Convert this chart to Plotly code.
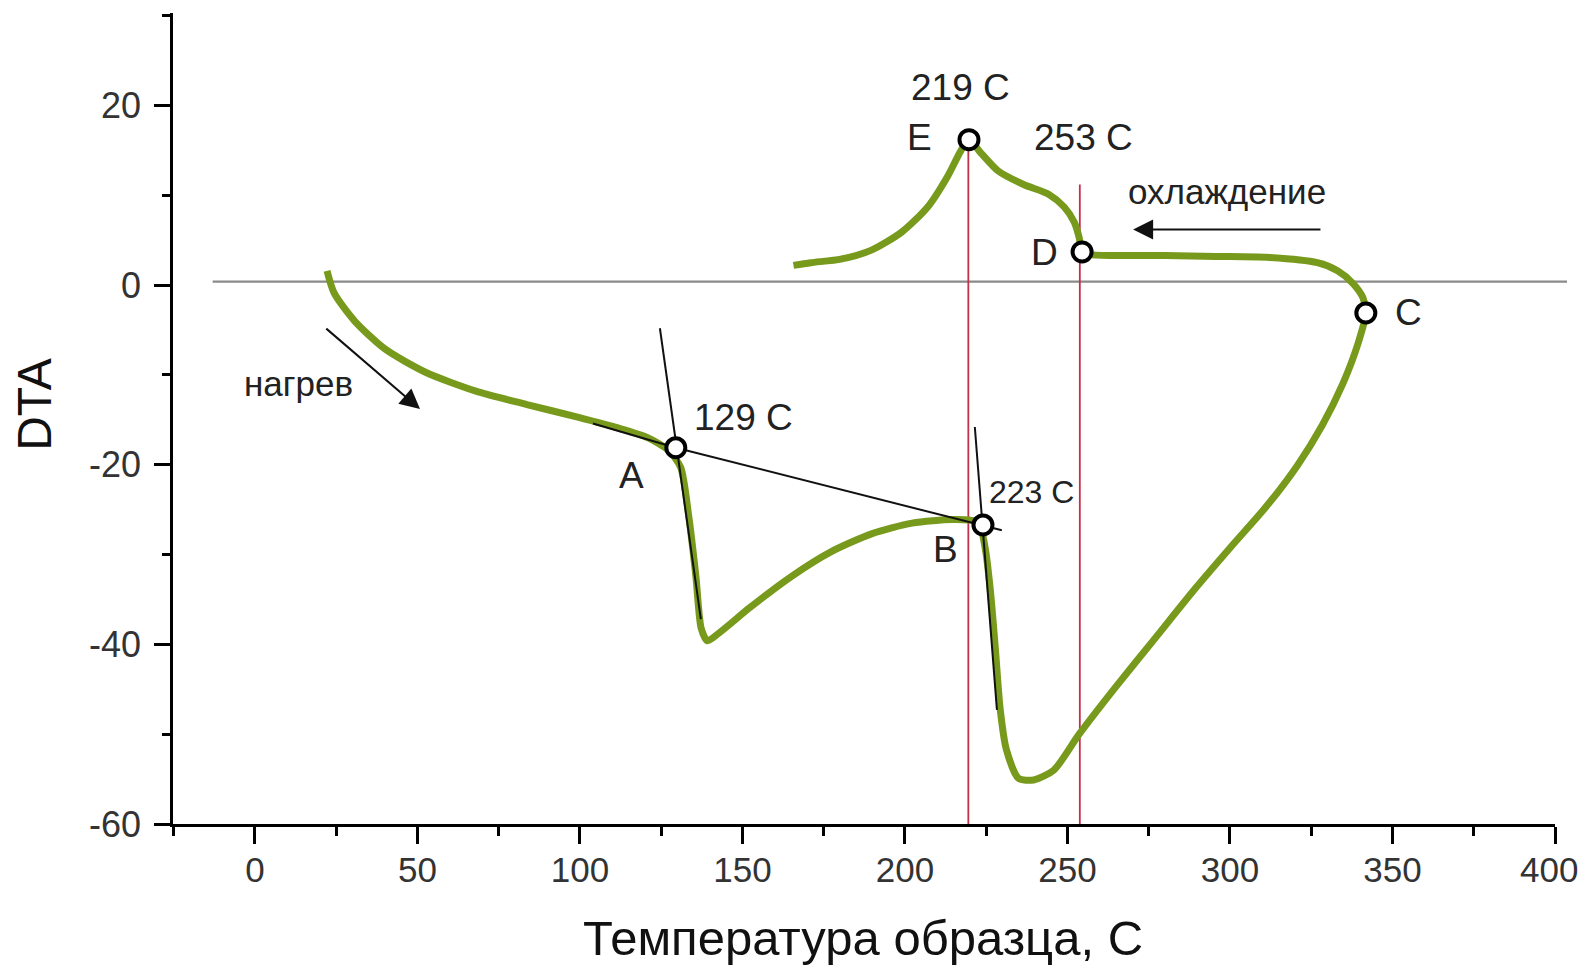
import plotly.graph_objects as go

# ---- data ----
curve_x = [22.2, 24.4, 30.7, 40.0, 52.5, 68.0, 83.7, 99.3, 111.7, 121.0, 127.3, 131.0, 133.5,
           135.7, 137.3, 139.2, 142.9, 152.3, 164.8, 177.2, 189.7, 202.2, 214.7, 222.5, 224.6,
           226.2, 227.8, 229.3, 231.2, 234.9, 239.6, 245.8, 253.6, 264.5, 277.0, 289.5, 300.4,
           311.3, 320.7, 328.4, 334.7, 339.4, 341.8, 340.9, 337.8, 333.1, 326.9, 311.3, 295.8,
           280.0, 264.5, 256.7, 254.5, 253.6, 252.1, 249.0, 244.3, 236.5, 228.7, 223.4, 219.7,
           217.1, 213.1, 207.0, 199.0, 189.7, 180.3, 171.0, 165.7]
curve_y = [1.6, -0.9, -4.0, -7.1, -9.7, -11.8, -13.3, -14.7, -15.9, -17.0, -18.4, -20.3, -25.8,
           -32.5, -38.2, -39.6, -38.7, -35.9, -32.5, -29.7, -27.7, -26.5, -26.1, -26.4, -29.1,
           -33.7, -40.4, -47.2, -51.7, -54.9, -55.1, -54.0, -50.0, -44.9, -39.3, -33.7, -29.1,
           -24.6, -20.1, -15.6, -11.0, -6.5, -3.1, -1.4, 0.2, 1.6, 2.5, 3.1, 3.2,
           3.3, 3.3, 3.4, 3.7, 5.3, 7.0, 8.7, 10.1, 11.2, 12.7, 14.7, 16.2,
           14.9, 12.1, 8.7, 5.9, 3.9, 2.9, 2.5, 2.2]

point_names = ["A", "B", "C", "D", "E"]
point_x = [129.5, 224.0, 341.8, 254.5, 219.7]
point_y = [-18.1, -26.7, -3.1, 3.7, 16.2]

# tangent / construction lines (pairs of endpoints)
tangent_segments = [
    ([124.6, 137.2], [-4.8, -37.2]),     # steep tangent at A
    ([104.0, 129.5], [-15.4, -18.1]),    # baseline before A
    ([129.5, 229.8], [-18.1, -27.3]),    # A -> B
    ([221.5, 228.3], [-15.8, -47.3]),    # steep tangent at B
]

red_lines_x = [219.5, 253.8]
red_lines_top = [16.2, 11.2]

baseline_y = 0.4
baseline_x = [-13.0, 403.7]

x_range = [-25.2, 400]
y_range = [-60, 30.3]

x_ticks = [0, 50, 100, 150, 200, 250, 300, 350, 400]
x_tick_text = ["0", "50", "100", "150", "200", "250", "300", "350", "400"]
y_ticks = [-60, -40, -20, 0, 20]
y_tick_text = ["-60", "-40", "-20", "0", "20"]

# text labels: (text, x, y, size)
labels = [
    ("219 C", 217.2, 22.0, 37),
    ("E", 204.6, 16.4, 37),
    ("253 C", 254.8, 16.4, 37),
    ("D", 242.8, 3.6, 37),
    ("C", 355.0, -3.1, 37),
    ("129 C", 150.2, -14.7, 37),
    ("A", 116.0, -21.2, 37),
    ("223 C", 238.8, -23.0, 32),
    ("B", 212.6, -29.4, 37),
    ("нагрев", 13.5, -11.0, 35),
    ("охлаждение", 299.0, 10.4, 35),
]

# arrows: (tail_x, tail_y, tip_x, tip_y)
arrows = [
    (21.5, -4.7, 50.8, -13.8),
    (328.3, 6.2, 270.2, 6.2),
]

FONT = "Liberation Sans, Arial, sans-serif"
GREEN = "#789a1c"
RED = "#c2304a"
TICK_FONT = dict(family=FONT, size=35, color="#333333")

fig = go.Figure()

# red vertical lines
for xv, top in zip(red_lines_x, red_lines_top):
    fig.add_trace(go.Scatter(x=[xv, xv], y=[y_range[0], top], mode="lines",
                             line=dict(color=RED, width=1.8), hoverinfo="skip", showlegend=False))

# main curve
fig.add_trace(go.Scatter(x=curve_x, y=curve_y, mode="lines",
                         line=dict(color=GREEN, width=7, shape="spline", smoothing=0.7),
                         showlegend=False))

# tangent lines
for sx, sy in tangent_segments:
    fig.add_trace(go.Scatter(x=sx, y=sy, mode="lines", line=dict(color="#111111", width=2),
                             hoverinfo="skip", showlegend=False))

# circle markers
fig.add_trace(go.Scatter(x=point_x, y=point_y, mode="markers", text=point_names,
                         marker=dict(size=19, color="white", line=dict(color="black", width=4)),
                         cliponaxis=False, showlegend=False))

# gray baseline (shape, may extend slightly past the plot edge)
span = x_range[1] - x_range[0]
fig.add_shape(type="line", xref="paper", yref="y",
              x0=(baseline_x[0] - x_range[0]) / span, x1=(baseline_x[1] - x_range[0]) / span,
              y0=baseline_y, y1=baseline_y, line=dict(color="#8a8a8a", width=2.2), layer="below")

for text, tx, ty, size in labels:
    fig.add_annotation(x=tx, y=ty, text=text, showarrow=False,
                       font=dict(family=FONT, size=size, color="#222222"))

for tx0, ty0, tx1, ty1 in arrows:
    fig.add_annotation(x=tx1, y=ty1, ax=tx0, ay=ty0, xref="x", yref="y", axref="x", ayref="y",
                       text="", showarrow=True, arrowhead=2, arrowsize=2, arrowwidth=2,
                       arrowcolor="#111111")

# last x tick label drawn as an annotation, nudged left so it stays inside the window
shown_tick_text = x_tick_text[:-1] + [""]
fig.add_annotation(x=x_ticks[-1], xref="x", yref="paper", y=-0.0561, xanchor="right",
                   yanchor="middle", xshift=25, text=x_tick_text[-1], showarrow=False,
                   font=TICK_FONT)

# axis titles as annotations
fig.add_annotation(xref="paper", yref="paper", x=(187.0 - x_range[0]) / span, y=-0.1405,
                   xanchor="center", yanchor="middle",
                   text="Температура образца, С", showarrow=False,
                   font=dict(family=FONT, size=49, color="#111111"))
fig.add_annotation(xref="paper", yref="paper", x=-0.0998, y=0.517, textangle=-90,
                   xanchor="center", yanchor="middle",
                   text="DTA", showarrow=False,
                   font=dict(family=FONT, size=48, color="#111111"))

fig.update_xaxes(range=x_range, tickvals=x_ticks, ticktext=shown_tick_text, ticks="outside",
                 ticklen=17, tickwidth=2.5, tickcolor="black", showline=True, linecolor="black",
                 linewidth=2.5, showgrid=False, zeroline=False, ticklabelstandoff=-4,
                 minor=dict(dtick=25, tick0=0, ticks="outside", ticklen=9, tickwidth=2.5,
                            tickcolor="black", showgrid=False),
                 tickfont=TICK_FONT)
fig.update_yaxes(range=y_range, tickvals=y_ticks, ticktext=y_tick_text, ticks="outside",
                 ticklen=16, tickwidth=2.5, tickcolor="black", showline=True, linecolor="black",
                 linewidth=2.5, showgrid=False, zeroline=False, ticklabelstandoff=6,
                 minor=dict(dtick=10, tick0=0, ticks="outside", ticklen=8, tickwidth=2.5,
                            tickcolor="black", showgrid=False),
                 tickfont=dict(family=FONT, size=36, color="#333333"))

# the page keeps its default 8px body margin; the figure fills the rest of the window
fig.update_layout(width=1581, height=959, margin=dict(l=165, r=34, t=5, b=143),
                  plot_bgcolor="white", paper_bgcolor="white", showlegend=False)

fig.write_html("out.html",
               config={"responsive": False, "displayModeBar": False},
               post_script="document.body.style.overflow='hidden';"
                           "document.documentElement.style.overflow='hidden';")
